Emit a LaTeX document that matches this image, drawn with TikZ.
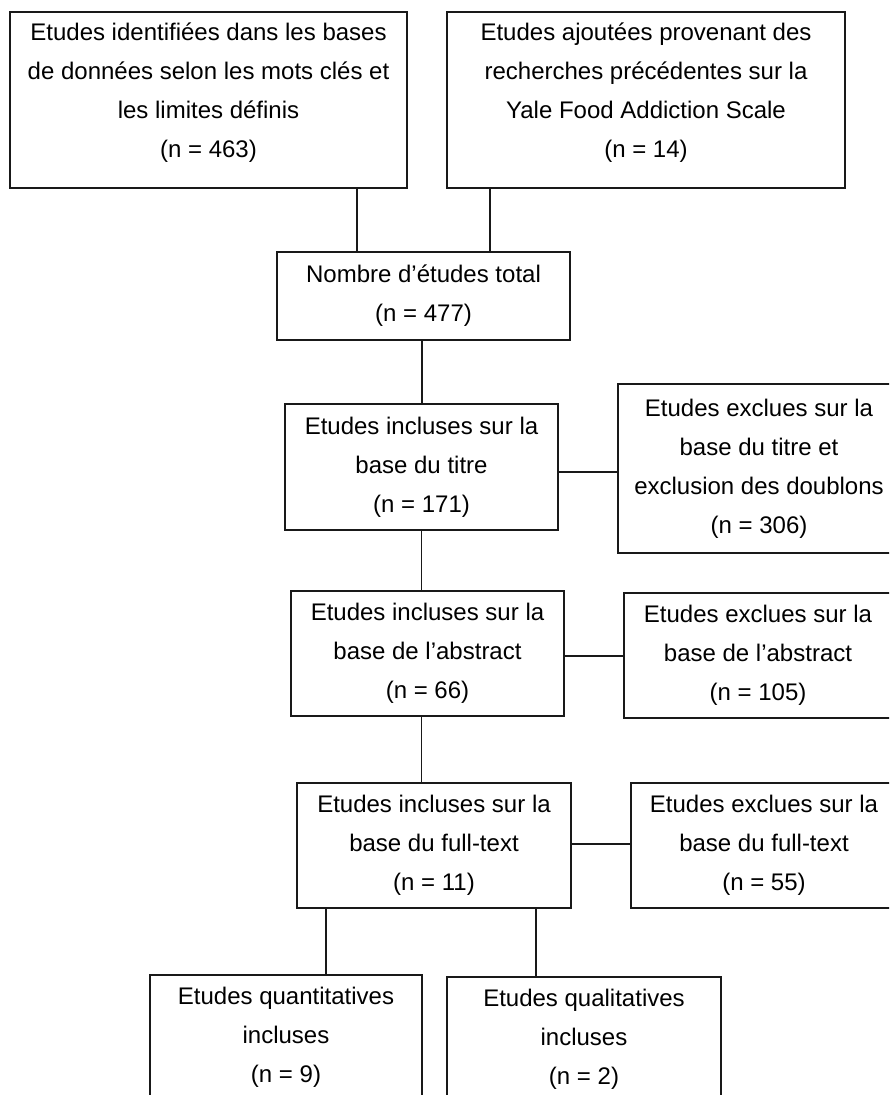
\documentclass[tikz,border=0pt]{standalone}
\usepackage{fontspec}
\setmainfont{Liberation Sans}
\usetikzlibrary{calc}
\begin{document}
\begin{tikzpicture}[x=1pt,y=-1pt,
  box/.style={draw=black!90, line width=1.3pt, align=center, inner sep=0pt,
              font=\fontsize{24}{39}\selectfont, text=black},
  topbox/.style={box, text depth=19pt},
  link/.style={draw=black!90, line width=1.3pt}]
\useasboundingbox (0,0) rectangle (889,1095);
\clip (0,0) rectangle (889,1095);
\node[topbox, minimum width=397pt, minimum height=176pt] (b1) at (208.5,100)
  {Etudes identifiées dans les bases\\de données selon les mots clés et\\les limites définis\\(n = 463)};
\node[topbox, minimum width=398pt, minimum height=176pt] (b2) at (646,100)
  {Etudes ajoutées provenant des\\recherches précédentes sur la\\Yale Food Addiction Scale\\(n = 14)};
\node[box, minimum width=293pt, minimum height=88pt] (b3) at (423.5,296)
  {Nombre d’études total\\(n = 477)};
\node[box, minimum width=273pt, minimum height=126pt] (b4) at (421.5,467)
  {Etudes incluses sur la\\base du titre\\(n = 171)};
\node[box, minimum width=282pt, minimum height=169pt] (b5) at (759,468.5)
  {Etudes exclues sur la\\base du titre et\\exclusion des doublons\\(n = 306)};
\node[box, minimum width=273pt, minimum height=125pt] (b6) at (427.5,653.5)
  {Etudes incluses sur la\\base de l’abstract\\(n = 66)};
\node[box, minimum width=268pt, minimum height=125pt] (b7) at (758,655.5)
  {Etudes exclues sur la\\base de l’abstract\\(n = 105)};
\node[box, minimum width=274pt, minimum height=125pt] (b8) at (434,845.5)
  {Etudes incluses sur la\\base du full-text\\(n = 11)};
\node[box, minimum width=266pt, minimum height=125pt] (b9) at (764,845.5)
  {Etudes exclues sur la\\base du full-text\\(n = 55)};
\node[box, minimum width=272pt, minimum height=125pt] (b10) at (286,1037.5)
  {Etudes quantitatives\\incluses\\(n = 9)};
\node[box, minimum width=274pt, minimum height=125pt] (b11) at (584,1039.5)
  {Etudes qualitatives\\incluses\\(n = 2)};
% connectors
\draw[link] ([xshift=148.5pt]b1.south) -- ([xshift=148.5pt]b1.south |- b3.north);
\draw[link] ([xshift=-156pt]b2.south) -- ([xshift=-156pt]b2.south |- b3.north);
\draw[link] ([xshift=-1.5pt]b3.south) -- ([xshift=-1.5pt]b3.south |- b4.north);
\draw[link] ([yshift=-5pt]b4.east) -- ([yshift=-5pt]b4.east -| b5.west);
\draw[link] (b4.south) -- (b4.south |- b6.north);
\draw[link] ([yshift=-2.5pt]b6.east) -- ([yshift=-2.5pt]b6.east -| b7.west);
\draw[link] (b4.south |- b6.south) -- (b4.south |- b8.north);
\draw[link] ([yshift=1.5pt]b8.east) -- ([yshift=1.5pt]b8.east -| b9.west);
\draw[link] ([xshift=-108pt]b8.south) -- ([xshift=-108pt]b8.south |- b10.north);
\draw[link] ([xshift=102pt]b8.south) -- ([xshift=102pt]b8.south |- b11.north);
\end{tikzpicture}
\end{document}
